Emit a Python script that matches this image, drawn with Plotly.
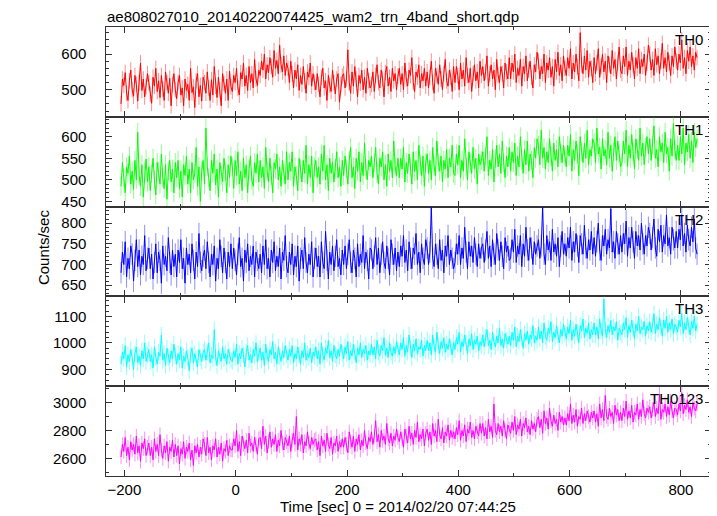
import numpy as np
import plotly.graph_objects as go
from plotly.subplots import make_subplots

# Time grid (first bin at -206 s, 2.5 s bins)
t_start = -206
t_bin = 2.5

th0 = [
    460, 530, 512, 548, 490, 470, 525, 555, 500, 482, 540, 515, 468, 520, 575, 498, 530, 480, 508, 545,
    520, 488, 462, 535, 510, 560, 495, 525, 478, 540, 502, 470, 550, 520, 490, 532, 455, 515, 545, 500,
    475, 520, 540, 485, 505, 455, 530, 498, 515, 470, 560, 492, 508, 450, 525, 545, 480, 512, 468, 535,
    520, 490, 550, 505, 470, 528, 485, 565, 510, 478, 535, 500, 455, 545, 518, 490, 530, 470, 552, 508,
    495, 540, 520, 560, 505, 485, 548, 530, 575, 510, 540, 498, 565, 520, 545, 505, 585, 530, 512, 555,
    540, 580, 555, 600, 530, 570, 548, 590, 565, 535, 610, 560, 582, 545, 625, 570, 550, 595, 540, 575,
    560, 520, 580, 545, 505, 555, 530, 570, 498, 540, 515, 565, 525, 490, 550, 535, 575, 510, 545, 520,
    500, 545, 515, 480, 535, 560, 505, 525, 470, 540, 512, 495, 555, 520, 488, 530, 545, 465, 515, 538,
    545, 505, 530, 612, 520, 490, 550, 510, 565, 530, 480, 540, 518, 555, 500, 535, 490, 560, 525, 505,
    515, 550, 495, 540, 570, 520, 505, 555, 530, 480, 548, 565, 510, 535, 495, 560, 525, 545, 500, 538,
    560, 515, 545, 500, 575, 530, 510, 555, 540, 590, 520, 495, 550, 535, 570, 505, 545, 525, 560, 510,
    550, 505, 535, 580, 520, 490, 560, 540, 515, 570, 530, 500, 545, 585, 525, 510, 555, 535, 495, 565,
    520, 565, 540, 500, 575, 530, 555, 510, 590, 540, 520, 560, 495, 545, 570, 525, 550, 505, 580, 540,
    565, 525, 550, 595, 510, 545, 570, 530, 555, 500, 585, 540, 520, 565, 545, 505, 575, 550, 530, 590,
    530, 575, 550, 600, 520, 560, 540, 585, 510, 565, 545, 595, 525, 555, 580, 535, 505, 570, 550, 605,
    580, 530, 565, 545, 600, 520, 575, 555, 590, 535, 565, 510, 585, 550, 605, 540, 570, 525, 595, 560,
    540, 590, 560, 615, 530, 575, 550, 600, 565, 525, 660, 570, 545, 595, 555, 610, 535, 580, 560, 520,
    590, 545, 575, 615, 535, 565, 600, 550, 580, 520, 595, 570, 545, 610, 560, 585, 530, 575, 620, 555,
    545, 595, 565, 620, 540, 580, 555, 605, 570, 530, 590, 560, 615, 545, 585, 565, 600, 540, 575, 625,
    600, 555, 585, 540, 615, 570, 595, 545, 580, 630, 560, 590, 550, 605, 575, 540, 595, 565, 620, 580,
    555, 600, 575, 640, 560, 590, 545, 610, 580, 620, 565, 595, 555, 605, 590,
]

th1 = [
    485, 540, 505, 470, 530, 515, 555, 490, 520, 478, 545, 500, 610, 510, 485, 535, 460, 520, 548, 495,
    530, 475, 515, 550, 500, 465, 540, 520, 490, 560, 505, 480, 535, 455, 520, 545, 495, 525, 470, 540,
    505, 545, 480, 520, 460, 535, 510, 555, 490, 525, 470, 540, 500, 515, 575, 485, 530, 450, 520, 545,
    490, 620, 530, 505, 475, 545, 515, 560, 488, 525, 460, 540, 510, 495, 550, 520, 470, 535, 505, 555,
    530, 480, 545, 510, 565, 490, 520, 475, 550, 505, 535, 470, 525, 555, 500, 485, 540, 515, 560, 495,
    545, 505, 530, 480, 575, 520, 495, 550, 510, 470, 540, 525, 560, 500, 530, 485, 545, 515, 490, 565,
    500, 540, 520, 565, 485, 530, 510, 475, 550, 525, 495, 545, 515, 580, 490, 535, 505, 555, 470, 530,
    545, 505, 530, 490, 560, 520, 580, 500, 535, 475, 550, 515, 540, 495, 525, 565, 505, 530, 485, 545,
    510, 555, 525, 490, 545, 575, 505, 530, 480, 550, 520, 565, 495, 540, 510, 585, 525, 500, 545, 530,
    555, 505, 540, 575, 515, 490, 550, 530, 565, 500, 535, 485, 560, 520, 545, 505, 590, 530, 510, 550,
    505, 550, 525, 575, 495, 540, 515, 560, 530, 490, 565, 520, 545, 500, 580, 535, 510, 555, 485, 540,
    560, 515, 545, 500, 575, 530, 510, 590, 540, 520, 555, 495, 545, 525, 570, 505, 550, 530, 580, 515,
    510, 560, 535, 580, 505, 545, 520, 595, 530, 500, 565, 540, 515, 575, 525, 550, 490, 560, 535, 545,
    565, 520, 555, 600, 510, 545, 525, 570, 495, 550, 580, 530, 560, 515, 590, 540, 505, 555, 530, 575,
    520, 565, 540, 585, 510, 555, 530, 600, 545, 515, 570, 535, 590, 520, 560, 545, 505, 575, 550, 595,
    580, 535, 615, 550, 575, 525, 565, 540, 595, 555, 520, 585, 545, 570, 530, 600, 560, 540, 580, 555,
    530, 580, 555, 605, 520, 570, 545, 590, 560, 510, 600, 565, 540, 585, 550, 615, 535, 570, 555, 595,
    585, 540, 620, 560, 575, 525, 595, 555, 570, 535, 610, 550, 580, 520, 565, 600, 545, 590, 560, 530,
    540, 590, 560, 615, 530, 580, 550, 605, 565, 525, 595, 570, 545, 620, 555, 585, 535, 575, 600, 560,
    595, 545, 580, 625, 550, 570, 530, 600, 565, 585, 540, 610, 560, 575, 520, 595, 555, 630, 570, 545,
    580, 545, 600, 560, 620, 535, 585, 565, 605, 550, 590, 540, 610, 575, 595,
]

th2 = [
    680, 730, 700, 755, 670, 715, 690, 745, 725, 660, 710, 760, 695, 735, 675, 720, 700, 770, 685, 715,
    740, 690, 725, 665, 705, 750, 680, 730, 710, 655, 745, 700, 720, 685, 765, 705, 675, 735, 695, 725,
    670, 735, 705, 760, 690, 715, 655, 740, 700, 725, 680, 750, 710, 665, 730, 695, 775, 705, 685, 720,
    735, 690, 755, 705, 670, 725, 700, 745, 660, 715, 690, 760, 720, 680, 740, 705, 665, 730, 695, 750,
    690, 740, 710, 675, 725, 765, 695, 715, 660, 735, 705, 750, 685, 720, 700, 745, 670, 730, 710, 690,
    725, 680, 745, 700, 760, 690, 715, 670, 735, 705, 755, 685, 720, 695, 740, 665, 730, 710, 770, 695,
    680, 730, 700, 750, 675, 720, 695, 745, 660, 715, 735, 690, 765, 705, 680, 725, 700, 755, 670, 715,
    740, 695, 720, 670, 755, 705, 690, 780, 710, 665, 730, 700, 745, 685, 720, 760, 695, 715, 675, 735,
    700, 745, 690, 725, 760, 705, 680, 735, 715, 670, 750, 695, 725, 705, 770, 690, 730, 710, 665, 740,
    735, 690, 720, 765, 700, 740, 680, 725, 755, 705, 690, 745, 715, 675, 760, 725, 700, 740, 685, 730,
    695, 745, 720, 770, 705, 735, 685, 755, 715, 690, 740, 725, 775, 700, 730, 680, 750, 715, 700, 760,
    740, 700, 730, 840, 715, 695, 750, 725, 690, 760, 710, 735, 680, 745, 720, 770, 700, 735, 715, 690,
    705, 750, 725, 770, 700, 740, 715, 790, 730, 690, 755, 720, 745, 705, 765, 725, 695, 750, 715, 740,
    750, 705, 735, 780, 715, 745, 695, 760, 725, 700, 775, 735, 710, 755, 720, 690, 765, 730, 745, 710,
    715, 760, 730, 785, 705, 745, 725, 770, 695, 750, 720, 790, 735, 710, 765, 740, 700, 755, 725, 745,
    760, 715, 745, 840, 725, 700, 770, 735, 755, 710, 785, 730, 750, 720, 765, 695, 745, 780, 725, 750,
    720, 765, 740, 790, 710, 755, 730, 775, 745, 705, 770, 750, 725, 795, 740, 715, 760, 735, 780, 725,
    765, 720, 755, 800, 735, 710, 770, 745, 785, 725, 760, 740, 835, 730, 755, 715, 780, 750, 725, 770,
    730, 775, 750, 805, 720, 765, 740, 790, 755, 715, 780, 745, 770, 735, 800, 750, 725, 770, 745, 790,
    775, 735, 765, 810, 740, 720, 785, 755, 795, 730, 770, 750, 820, 745, 765, 725, 790, 760, 740, 780,
    740, 785, 760, 820, 745, 775, 730, 795, 760, 745, 790, 755, 810, 740, 725,
]

th3 = [
    920, 965, 940, 990, 910, 955, 930, 975, 945, 900, 960, 985, 925, 950, 915, 970, 940, 1000, 930, 955,
    975, 930, 955, 905, 985, 945, 920, 965, 950, 1030, 935, 960, 915, 980, 945, 925, 970, 940, 995, 950,
    920, 960, 935, 985, 905, 950, 930, 970, 945, 895, 955, 980, 925, 960, 940, 910, 975, 945, 930, 965,
    975, 935, 965, 1000, 925, 955, 940, 1050, 945, 915, 970, 950, 930, 985, 940, 960, 920, 975, 950, 935,
    930, 970, 945, 995, 920, 960, 940, 980, 955, 910, 965, 990, 935, 955, 925, 975, 950, 1000, 930, 960,
    980, 935, 965, 915, 995, 950, 930, 975, 955, 1005, 940, 965, 920, 985, 950, 930, 970, 945, 990, 955,
    935, 975, 950, 990, 925, 960, 940, 985, 955, 920, 970, 945, 1000, 935, 960, 945, 980, 925, 965, 950,
    985, 940, 970, 920, 1000, 955, 935, 980, 960, 1010, 945, 970, 930, 990, 955, 940, 975, 950, 995, 960,
    940, 985, 960, 1005, 935, 970, 950, 995, 965, 925, 980, 955, 1000, 945, 975, 960, 990, 935, 970, 955,
    995, 955, 985, 940, 1010, 965, 950, 990, 970, 1020, 955, 980, 945, 1000, 965, 950, 985, 960, 1005, 975,
    955, 1000, 975, 1020, 950, 990, 965, 1030, 980, 945, 995, 970, 1015, 960, 985, 975, 1010, 950, 990, 970,
    1010, 970, 1000, 955, 1030, 985, 965, 1040, 990, 960, 1005, 980, 1020, 965, 995, 975, 1015, 985, 955, 1000,
    975, 1020, 995, 1040, 965, 1005, 985, 1030, 1000, 960, 1015, 990, 1035, 975, 1010, 995, 1025, 970, 1005, 990,
    1030, 985, 1020, 1050, 990, 1010, 975, 1040, 1005, 985, 1025, 1000, 1055, 990, 1015, 980, 1035, 1010, 995, 1025,
    990, 1040, 1010, 1060, 985, 1025, 1005, 1050, 1020, 980, 1035, 1010, 1045, 995, 1030, 1015, 1065, 1000, 1025, 1010,
    1060, 1015, 1045, 1000, 1075, 1025, 1010, 1055, 1035, 1080, 1005, 1040, 1020, 1065, 1030, 1000, 1050, 1025, 1070, 1035,
    1015, 1060, 1035, 1085, 1010, 1050, 1025, 1070, 1040, 1000, 1065, 1045, 1090, 1020, 1055, 1035, 1075, 1015, 1050, 1030,
    1075, 1030, 1060, 1015, 1090, 1045, 1025, 1165, 1050, 1020, 1065, 1040, 1085, 1030, 1060, 1045, 1080, 1010, 1055, 1040,
    1030, 1075, 1050, 1095, 1020, 1065, 1040, 1085, 1055, 1015, 1070, 1045, 1100, 1035, 1060, 1050, 1080, 1025, 1065, 1045,
    1080, 1040, 1065, 1110, 1035, 1070, 1050, 1095, 1060, 1025, 1085, 1055, 1100, 1040, 1075, 1050, 1090, 1035, 1070, 1060,
    1040, 1085, 1060, 1110, 1035, 1075, 1050, 1095, 1065, 1030, 1080, 1055, 1100, 1045, 1070,
]

th0123 = [
    2610, 2700, 2650, 2750, 2620, 2680, 2590, 2720, 2660, 2700, 2630, 2760, 2640, 2690, 2580, 2710, 2670, 2740, 2620, 2680,
    2710, 2620, 2680, 2590, 2740, 2650, 2700, 2620, 2770, 2660, 2600, 2690, 2640, 2720, 2580, 2680, 2650, 2730, 2610, 2700,
    2620, 2690, 2560, 2670, 2630, 2720, 2600, 2680, 2650, 2710, 2590, 2660, 2550, 2690, 2640, 2700, 2610, 2680, 2630, 2740,
    2700, 2620, 2750, 2640, 2680, 2590, 2690, 2660, 2740, 2610, 2680, 2630, 2710, 2580, 2670, 2650, 2730, 2620, 2690, 2660,
    2660, 2740, 2690, 2800, 2650, 2720, 2620, 2760, 2700, 2670, 2730, 2640, 2780, 2690, 2710, 2650, 2750, 2700, 2630, 2740,
    2750, 2670, 2830, 2700, 2760, 2640, 2720, 2790, 2680, 2740, 2700, 2770, 2650, 2730, 2690, 2800, 2710, 2660, 2750, 2720,
    2690, 2760, 2650, 2730, 2780, 2700, 2900, 2660, 2740, 2700, 2770, 2640, 2720, 2690, 2790, 2710, 2670, 2750, 2700, 2730,
    2740, 2660, 2720, 2620, 2760, 2690, 2730, 2650, 2780, 2700, 2670, 2750, 2630, 2710, 2690, 2760, 2650, 2720, 2680, 2740,
    2680, 2750, 2700, 2640, 2790, 2720, 2680, 2760, 2650, 2740, 2700, 2770, 2660, 2730, 2690, 2800, 2710, 2670, 2750, 2720,
    2790, 2700, 2760, 2870, 2720, 2770, 2680, 2800, 2730, 2760, 2700, 2850, 2740, 2710, 2780, 2690, 2760, 2730, 2810, 2750,
    2720, 2790, 2740, 2680, 2810, 2760, 2710, 2830, 2740, 2780, 2700, 2800, 2750, 2860, 2720, 2770, 2740, 2810, 2690, 2780,
    2810, 2730, 2790, 2700, 2850, 2760, 2800, 2720, 2880, 2770, 2740, 2820, 2710, 2790, 2760, 2840, 2730, 2800, 2750, 2790,
    2740, 2820, 2770, 2870, 2730, 2800, 2760, 2840, 2720, 2810, 2780, 2860, 2750, 2800, 2740, 2830, 2790, 2760, 2850, 2780,
    2850, 2760, 2820, 2740, 2880, 2790, 2830, 2750, 2990, 2800, 2770, 2850, 2790, 2830, 2760, 2870, 2800, 2740, 2840, 2810,
    2780, 2860, 2800, 2900, 2770, 2840, 2810, 2880, 2760, 2850, 2820, 2890, 2790, 2830, 2770, 2870, 2810, 2850, 2790, 2880,
    2900, 2820, 2880, 2780, 2940, 2850, 2890, 2810, 2960, 2870, 2830, 2910, 2850, 2880, 2800, 2930, 2860, 2900, 2840, 2890,
    2840, 2920, 2870, 2990, 2850, 2910, 2860, 2950, 2830, 2900, 2880, 2960, 2850, 2920, 2870, 2940, 2900, 2860, 2930, 2890,
    2940, 2860, 2920, 2830, 2990, 2890, 2950, 2870, 3050, 2900, 2880, 2960, 2900, 2930, 2850, 2980, 2910, 2950, 2870, 2930,
    2870, 2960, 2900, 3010, 2880, 2940, 2890, 2980, 2860, 2930, 2910, 2990, 2880, 2950, 2900, 3020, 2920, 2890, 2960, 2930,
    2970, 2890, 2950, 3000, 2900, 2960, 2920, 3060, 2880, 2950, 2930, 2990, 2900, 2970, 2910, 3010, 2940, 2890, 2960, 2950,
    2910, 2990, 2940, 3070, 2920, 2980, 2950, 3020, 2930, 2970, 2900, 3000, 2960, 2940, 2990,
]

band_names = ["TH0", "TH1", "TH2", "TH3", "TH0123"]
band_values = [th0, th1, th2, th3, th0123]
band_errors = [22, 22, 26, 31, 52]
band_colors = ["#ff0000", "#00ff00", "#0000ff", "#00ffff", "#ff00ff"]
err_colors = ["rgba(255,0,0,0.45)", "rgba(0,255,0,0.45)", "rgba(0,0,255,0.45)",
              "rgba(0,255,255,0.45)", "rgba(255,0,255,0.45)"]
y_ranges = [[424, 676], [438, 646], [623, 840], [837, 1175], [2474, 3117]]
y_major = [100, 50, 50, 100, 200]
y_minor = [20, 10, 10, 20, 100]
x_range = [-233, 854]

title_text = "ae808027010_20140220074425_wam2_trn_4band_short.qdp"
xlabel_text = "Time [sec] 0 = 2014/02/20 07:44:25"
ylabel_text = "Counts/sec"

FONT = "Liberation Sans, Arial, Helvetica, sans-serif"

fig = make_subplots(rows=5, cols=1, shared_xaxes=True, vertical_spacing=0)

for i, (name, vals, err, col, ecol) in enumerate(
        zip(band_names, band_values, band_errors, band_colors, err_colors)):
    t = t_start + t_bin * np.arange(len(vals))
    fig.add_trace(go.Scatter(
        x=t, y=vals, mode="lines", name=name,
        line=dict(color=col, width=1),
        error_y=dict(type="constant", value=err, color=ecol, thickness=1, width=0),
        showlegend=False, hoverinfo="skip"), row=i + 1, col=1)

axis_common = dict(
    showline=True, linecolor="#333333", linewidth=1.2, mirror="ticks",
    ticks="inside", tickcolor="#333333", ticklen=6, tickwidth=1,
    showgrid=False, zeroline=False,
    tickfont=dict(family=FONT, size=15, color="black"),
)

domains = [[0.8, 1.0], [0.6, 0.8], [0.4, 0.6], [0.2, 0.4], [0.0, 0.2]]

for i in range(5):
    dom = domains[i]
    xname = "xaxis" if i == 0 else f"xaxis{i+1}"
    yname = "yaxis" if i == 0 else f"yaxis{i+1}"
    fig.layout[xname].update(
        range=x_range, dtick=200, tick0=0,
        minor=dict(dtick=100, ticks="inside", ticklen=3, tickcolor="#333333"),
        showticklabels=(i == 4), **axis_common)
    fig.layout[yname].update(
        domain=dom, range=y_ranges[i], dtick=y_major[i], tick0=0,
        minor=dict(dtick=y_minor[i], ticks="inside", ticklen=3, tickcolor="#333333"),
        ticklabelstandoff=8, ticksuffix="\u2002",
        **axis_common)
    fig.add_annotation(
        text=band_names[i], xref="paper", yref="paper", x=0.9895, y=dom[1],
        xanchor="right", yanchor="top", yshift=-2, showarrow=False,
        font=dict(family=FONT, size=15, color="black"))

fig.add_annotation(text=title_text, xref="paper", yref="paper", x=0, y=1,
                   xanchor="left", yanchor="bottom", yshift=0, xshift=-1,
                   showarrow=False, font=dict(family=FONT, size=15, color="black"))
fig.add_annotation(text=xlabel_text, xref="paper", yref="paper", x=0.482, y=0,
                   xanchor="center", yanchor="top", yshift=-20, showarrow=False,
                   font=dict(family=FONT, size=15, color="black"))
fig.add_annotation(text=ylabel_text, xref="paper", yref="paper", x=-0.104, y=0.51,
                   xanchor="center", yanchor="middle", textangle=-90, showarrow=False,
                   font=dict(family=FONT, size=15, color="black"))

# the page has an 8 px body margin, so the figure is sized to fit inside it
fig.update_layout(
    width=709, height=508,
    margin=dict(l=98, r=6, t=19, b=40),
    paper_bgcolor="white", plot_bgcolor="white",
    font=dict(family=FONT, size=15, color="black"),
)

fig.write_html("out.html")
